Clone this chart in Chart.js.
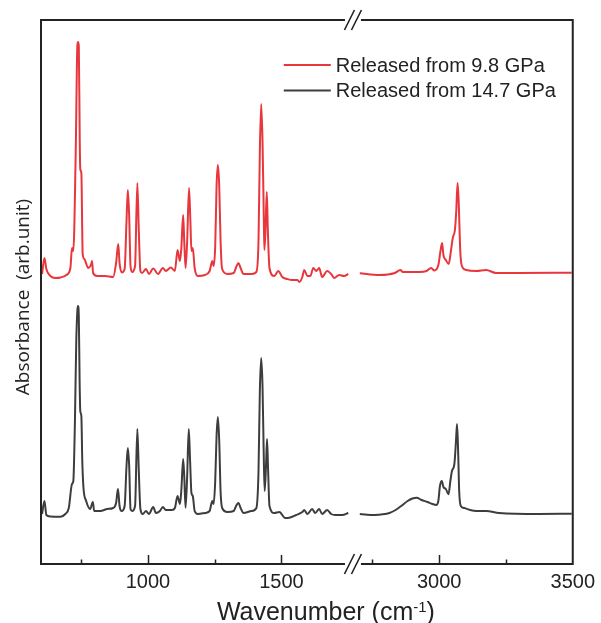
<!DOCTYPE html>
<html><head><meta charset="utf-8">
<style>html,body{margin:0;padding:0;background:#fff;}</style>
<script src="https://cdn.jsdelivr.net/npm/chart.js@4/dist/chart.umd.min.js"></script>
</head><body>
<canvas id="c" width="601" height="623"></canvas>
<script>
// ---- data (wavenumber in cm^-1, absorbance in arbitrary units, spectra stacked) ----
const SERIES_LABELS = ['Released from 9.8 GPa', 'Released from 14.7 GPa'];
const SERIES_COLORS = ['#e8363c', '#3d3d3d'];

const RED_WN = [604,613,620,635,654,673,695,710,716,721,730,736,738.5,741.5,745,747,751,756,762,777,788,791,795,810,840,870,881,889,894,902,913,920,925,930,935,941,952,960.5,966,972,978,993,1004,1020,1038,1056,1067,1086,1101,1111,1120,1125,1132,1136,1141,1147,1154,1159,1163,1168,1175,1187,1213,1231,1241,1246,1252,1257,1262,1267,1272,1278,1298,1321,1332,1339,1347,1358,1388,1406,1414,1419,1424,1429,1434,1436,1440,1445,1449,1455,1473,1488,1503,1522,1540,1559,1567,1578,1585,1597,1608,1619,1630,1641,1652,1671,1686,1697,1716,1734,1750,
  2703,2777,2834,2855,2864,2889,2926,2953,2970,2982,2997,3005,3011,3016,3025,3036,3044,3051,3059,3064,3069,3073,3079,3085,3101,3139,3176,3213,3299,3496];
const RED_ABS = [2.90,3.06,2.95,2.88,2.86,2.865,2.89,2.96,3.16,3.13,4.13,5.18,5.22,5.18,4.23,3.95,3.91,3.10,3.05,2.96,3.00,3.03,2.91,2.88,2.88,2.87,3.01,3.20,3.01,2.915,2.95,3.43,3.74,3.48,2.98,2.92,2.98,3.81,3.33,2.93,2.91,2.95,2.90,2.955,2.90,2.96,2.93,2.965,2.93,3.14,3.03,3.15,3.49,3.23,2.96,3.23,3.76,3.43,3.13,3.16,2.96,2.88,2.89,2.93,3.03,2.98,3.18,3.78,3.99,3.78,3.23,2.95,2.90,2.91,2.98,3.01,2.96,2.90,2.90,2.92,3.23,4.13,4.60,4.23,3.43,3.14,3.33,3.72,3.33,2.96,2.88,2.93,2.87,2.85,2.84,2.84,2.82,2.87,2.94,2.88,2.88,2.96,2.93,2.96,2.87,2.93,2.90,2.86,2.89,2.88,2.90,
  2.907,2.89,2.91,2.94,2.92,2.92,2.92,2.93,2.96,2.935,2.99,3.13,3.21,3.09,3.04,3.00,3.13,3.26,3.34,3.53,3.81,3.63,3.13,2.98,2.94,2.93,2.94,2.91,2.91,2.913];

const BLACK_WN = [604,613,620,635,673,691,704,716,721,727,732,736,738.5,741.5,744.5,747,751,754.5,759,769,784,794,799,822,848,870,881,888,894,902,913,920,925,930,935,941,952,960.5,966,972,981,993,1004,1020,1030,1045,1056,1067,1090,1101,1111,1120,1125,1132,1136,1141,1147,1153,1158,1163,1168,1175,1187,1213,1231,1241,1246,1252,1257,1262,1267,1272,1278,1298,1321,1332,1339,1347,1358,1388,1406,1414,1419,1424,1429,1434,1437,1442,1446,1450,1455,1473,1492,1514,1529,1555,1578,1585,1597,1615,1626,1641,1652,1671,1686,1701,1727,1750,
  2703,2759,2796,2814,2837,2858,2882,2900,2916,2934,2956,2975,2989,2997,3003,3010,3016,3025,3035,3042,3048,3057,3063,3067,3071,3075,3081,3094,3116,3139,3176,3224,3373,3496];
const BLACK_ABS = [0.50,0.63,0.49,0.475,0.473,0.50,0.56,0.80,0.83,1.43,2.23,2.53,2.58,2.48,1.83,1.53,1.48,1.03,0.76,0.63,0.55,0.62,0.53,0.53,0.55,0.56,0.61,0.75,0.58,0.53,0.58,0.98,1.16,0.98,0.55,0.53,0.58,1.35,0.93,0.55,0.50,0.53,0.50,0.57,0.51,0.53,0.57,0.54,0.54,0.56,0.68,0.60,0.73,1.05,0.88,0.563,0.88,1.35,1.03,0.71,0.68,0.53,0.50,0.51,0.53,0.63,0.60,0.83,1.28,1.47,1.23,0.73,0.56,0.52,0.53,0.59,0.61,0.56,0.51,0.53,0.56,0.93,1.73,2.06,1.78,1.03,0.73,0.98,1.25,0.93,0.58,0.51,0.52,0.46,0.463,0.49,0.52,0.54,0.50,0.55,0.51,0.55,0.50,0.54,0.50,0.49,0.49,0.51,
  0.50,0.49,0.50,0.51,0.54,0.58,0.63,0.655,0.663,0.64,0.62,0.60,0.59,0.63,0.78,0.83,0.77,0.75,0.697,0.83,0.93,1.00,1.23,1.40,1.13,0.73,0.58,0.56,0.54,0.53,0.53,0.51,0.50,0.503];

// axis: broken between BREAK_START and BREAK_END
const X_MIN = 600, X_MAX = 3500;
const BREAK_START = 1760, BREAK_END = 2670;
const MAJOR_TICKS = [1000, 1500, 3000, 3500];
const MINOR_TICKS = [750, 1250, 2750, 3250];
const Y_MIN = 0, Y_MAX = 5.44;
const X_TITLE = 'Wavenumber (cm';
const X_TITLE_SUP = '-1';
const X_TITLE_END = ')';
const Y_TITLE = 'Absorbance  (arb.unit)';

// ---- helpers ----
const GAP = BREAK_END - BREAK_START;
const toDisp = w => (w >= BREAK_END ? w - GAP : w);
const fromDisp = d => (d > BREAK_START ? d + GAP : d);
function toPoints(wn, ab) {
  const pts = [];
  for (let i = 0; i < wn.length; i++) {
    if (i > 0 && wn[i - 1] <= BREAK_START && wn[i] >= BREAK_END) pts.push({x: BREAK_START, y: null});
    pts.push({x: toDisp(wn[i]), y: ab[i]});
  }
  return pts;
}

const SANS = "'Liberation Sans', Arial, 'DejaVu Sans', sans-serif";
const TEXT = '#222';

const framePlugin = {
  id: 'frame',
  afterDraw(chart) {
    const {ctx, chartArea: a, scales: {x}} = chart;
    const bx = x.getPixelForValue(BREAK_START) + 2;
    const g1 = bx - 8, g2 = bx + 8;
    ctx.save();
    ctx.strokeStyle = '#222';
    ctx.lineWidth = 2;
    ctx.lineCap = 'butt';
    ctx.beginPath();
    ctx.moveTo(a.left, a.top - 1); ctx.lineTo(a.left, a.bottom + 1);
    ctx.moveTo(a.right, a.top - 1); ctx.lineTo(a.right, a.bottom + 1);
    ctx.moveTo(a.left, a.top); ctx.lineTo(g1, a.top);
    ctx.moveTo(g2, a.top); ctx.lineTo(a.right, a.top);
    ctx.moveTo(a.left, a.bottom); ctx.lineTo(g1, a.bottom);
    ctx.moveTo(g2, a.bottom); ctx.lineTo(a.right, a.bottom);
    ctx.stroke();
    // ticks (inward)
    ctx.lineWidth = 1.5;
    ctx.beginPath();
    MAJOR_TICKS.forEach(w => { const px = Math.round(x.getPixelForValue(toDisp(w))) + 0.5; if (px < a.right - 2) { ctx.moveTo(px, a.bottom); ctx.lineTo(px, a.bottom - 9); } });
    MINOR_TICKS.forEach(w => { const px = Math.round(x.getPixelForValue(toDisp(w))) + 0.5; ctx.moveTo(px, a.bottom); ctx.lineTo(px, a.bottom - 4.5); });
    ctx.stroke();
    // break marks //
    ctx.lineWidth = 1.6;
    ctx.beginPath();
    [a.top, a.bottom].forEach(yy => {
      [-3.5, 3.5].forEach(dx => {
        ctx.moveTo(bx + dx - 5, yy + 10);
        ctx.lineTo(bx + dx + 5, yy - 10);
      });
    });
    ctx.stroke();
    // legend
    ctx.font = '20px ' + SANS;
    ctx.textBaseline = 'middle';
    ctx.textAlign = 'left';
    chart.data.datasets.forEach((ds, i) => {
      const yy = a.top + 45 + i * 25.5;
      ctx.strokeStyle = ds.borderColor;
      ctx.lineWidth = 2;
      ctx.beginPath();
      ctx.moveTo(a.right - 289, yy); ctx.lineTo(a.right - 242, yy);
      ctx.stroke();
      ctx.fillStyle = TEXT;
      ctx.fillText(ds.label, a.right - 237, yy + 1);
    });
    // x title with superscript
    ctx.textBaseline = 'alphabetic';
    const mainFont = '25px ' + SANS, supFont = '15px ' + SANS;
    ctx.font = mainFont; const w1 = ctx.measureText(X_TITLE).width; const w3 = ctx.measureText(X_TITLE_END).width;
    ctx.font = supFont; const w2 = ctx.measureText(X_TITLE_SUP).width;
    const cx = (a.left + a.right) / 2 + 19;
    let tx = cx - (w1 + w2 + w3) / 2;
    const base = a.bottom + 56;
    ctx.fillStyle = TEXT;
    ctx.font = mainFont; ctx.fillText(X_TITLE, tx, base); tx += w1;
    ctx.font = supFont; ctx.fillText(X_TITLE_SUP, tx, base - 8); tx += w2;
    ctx.font = mainFont; ctx.fillText(X_TITLE_END, tx, base);
    // y title
    ctx.save();
    ctx.translate(24, (a.top + a.bottom) / 2 + 5);
    ctx.rotate(-Math.PI / 2);
    ctx.font = "19px 'Open Sans', 'Liberation Sans', sans-serif";
    ctx.textAlign = 'center';
    ctx.textBaseline = 'middle';
    ctx.fillText(Y_TITLE, 0, 0);
    ctx.restore();
    ctx.restore();
  }
};

new Chart(document.getElementById('c'), {
  type: 'line',
  data: {
    datasets: [
      {label: SERIES_LABELS[0], data: toPoints(RED_WN, RED_ABS), borderColor: SERIES_COLORS[0], borderWidth: 2, pointRadius: 0, cubicInterpolationMode: 'monotone', spanGaps: false},
      {label: SERIES_LABELS[1], data: toPoints(BLACK_WN, BLACK_ABS), borderColor: SERIES_COLORS[1], borderWidth: 2, pointRadius: 0, cubicInterpolationMode: 'monotone', spanGaps: false}
    ]
  },
  options: {
    responsive: false,
    animation: false,
    events: [],
    layout: {padding: {top: 20, right: 27, left: 0, bottom: 0}},
    plugins: {legend: {display: false}, tooltip: {enabled: false}},
    scales: {
      x: {
        type: 'linear',
        min: toDisp(X_MIN), max: toDisp(X_MAX),
        grid: {display: false, drawTicks: false},
        border: {display: false},
        afterBuildTicks: s => { s.ticks = MAJOR_TICKS.map(w => ({value: toDisp(w)})); },
        afterFit: s => { s.height = 59; },
        ticks: {
          maxRotation: 0, autoSkip: false, padding: 6, color: TEXT,
          font: {family: SANS, size: 20},
          callback: v => String(fromDisp(v))
        },
        title: {display: false}
      },
      y: {
        min: Y_MIN, max: Y_MAX,
        grid: {display: false, drawTicks: false},
        border: {display: false},
        ticks: {display: false},
        afterFit: s => { s.width = 41; },
        title: {display: false}
      }
    }
  },
  plugins: [framePlugin]
});
</script>
</body></html>
